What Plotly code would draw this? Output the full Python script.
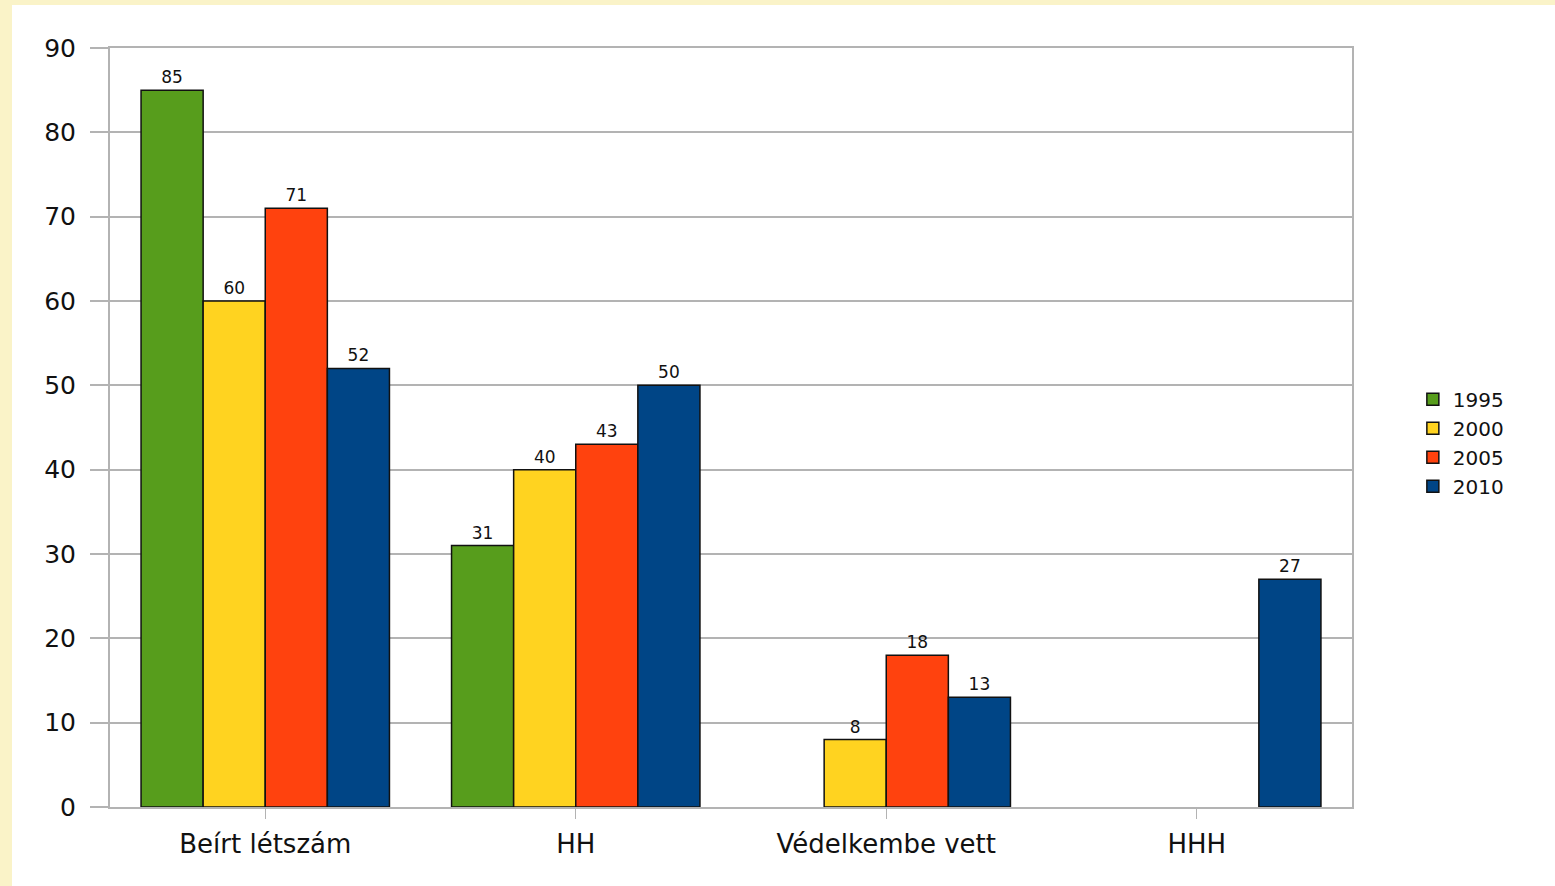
import plotly.graph_objects as go

categories = ["Beírt létszám", "HH", "Védelkembe vett", "HHH"]
years = ["1995", "2000", "2005", "2010"]
v1995 = [85, 31, None, None]
v2000 = [60, 40, 8, None]
v2005 = [71, 43, 18, None]
v2010 = [52, 50, 13, 27]
series = [v1995, v2000, v2005, v2010]
colors = ["#579D1C", "#FFD320", "#FF420E", "#004586"]
y_ticks = [0, 10, 20, 30, 40, 50, 60, 70, 80, 90]

fig = go.Figure()
for name, vals, col in zip(years, series, colors):
    fig.add_trace(go.Bar(
        name=name, x=categories, y=vals,
        marker=dict(color=col, line=dict(color="#111111", width=1.5)),
        text=[("" if v is None else str(v)) for v in vals],
        textposition="outside", cliponaxis=False,
        textfont=dict(family="DejaVu Sans", size=17, color="#111111"),
    ))

fig.update_layout(
    width=1555, height=886,
    margin=dict(l=110, r=203, t=48, b=79),
    paper_bgcolor="#FAF3C8",
    plot_bgcolor="white",
    barmode="group", bargap=0.2, bargroupgap=0,
    showlegend=True,
    legend=dict(x=1.049, y=0.48, xanchor="left", yanchor="middle",
                font=dict(family="DejaVu Sans", size=20, color="#111111"),
                bgcolor="rgba(0,0,0,0)", tracegroupgap=0),
    shapes=[dict(type="rect", xref="paper", yref="paper", layer="below",
                 x0=-110/1242 + 12/1242, x1=1 + 203/1242, y0=-79/759, y1=1 + 43/759,
                 fillcolor="white", line=dict(width=0))],
)
fig.update_xaxes(
    showline=True, linecolor="#B3B3B3", linewidth=2, mirror=True,
    ticks="outside", ticklen=10, tickcolor="#B3B3B3", tickwidth=1,
    tickfont=dict(family="DejaVu Sans", size=26, color="#111111"),
    ticklabelstandoff=3,
)
fig.update_yaxes(
    range=[0, 90], tickvals=y_ticks,
    showline=True, linecolor="#B3B3B3", linewidth=2, mirror=True,
    showgrid=True, gridcolor="#B3B3B3", gridwidth=1.5,
    ticks="outside", ticklen=18, tickcolor="#B3B3B3", tickwidth=1.5,
    tickfont=dict(family="DejaVu Sans", size=25, color="#111111"),
    ticklabelstandoff=9, zeroline=False,
)
fig.write_html(
    "out.html",
    config={"displayModeBar": False},
    post_script="document.body.style.margin='0';document.body.style.background='#FAF3C8';document.body.style.overflow='hidden';",
)
